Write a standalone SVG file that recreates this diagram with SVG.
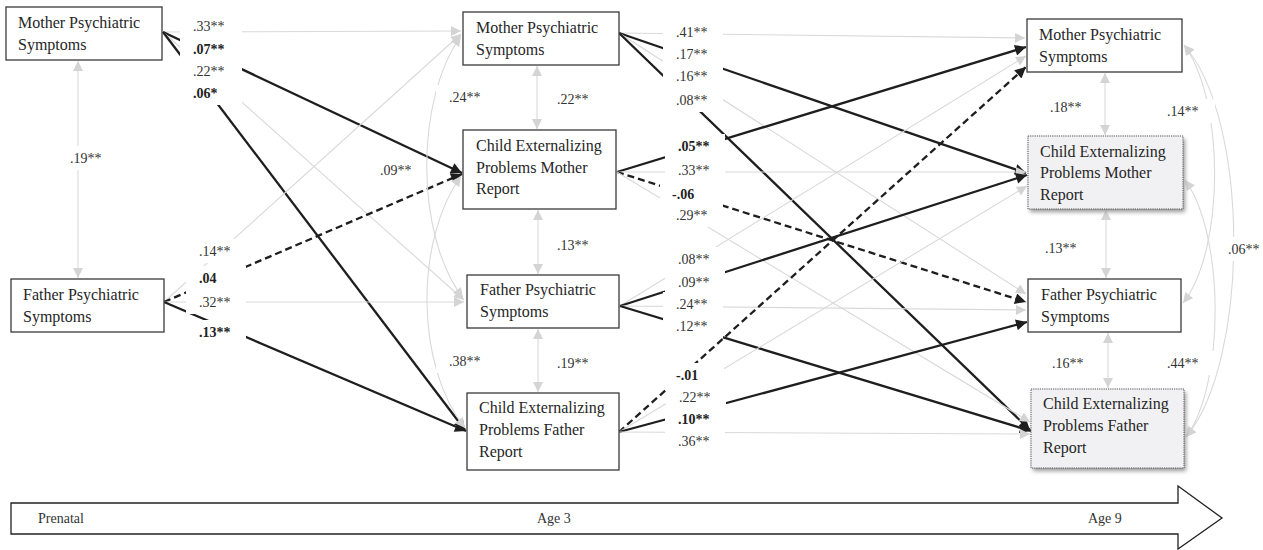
<svg xmlns="http://www.w3.org/2000/svg" width="1263" height="550" viewBox="0 0 1263 550">
<style>
.bx{fill:#fff;stroke:#3a3a3a;stroke-width:1.3}
.gb{fill:#f1f1f3;stroke:#555;stroke-width:1;stroke-dasharray:1.2,1}
.nt{font-family:"Liberation Serif","Times New Roman",serif;font-size:16px;fill:#262626}
.lb{font-family:"Liberation Serif","Times New Roman",serif;font-size:14px;fill:#333}
.b{font-weight:bold;fill:#222}
.lm{fill:#fff}
.g{stroke:#d9d9d9;stroke-width:1.1;fill:none;marker-end:url(#ag)}
.g2{stroke:#d9d9d9;stroke-width:1.1;fill:none;marker-start:url(#ag);marker-end:url(#ag)}
.k{stroke:#1e1e1e;stroke-width:2.3;fill:none;marker-end:url(#ak)}
.d{stroke:#1e1e1e;stroke-width:2.3;fill:none;stroke-dasharray:7,4;marker-end:url(#ak)}
.tl{fill:#fff;stroke:#222;stroke-width:1.3}
.tt{font-family:"Liberation Serif","Times New Roman",serif;font-size:14px;fill:#333}
</style>
<defs>
<marker id="ag" viewBox="0 0 10 10" refX="10" refY="5" markerWidth="12" markerHeight="10" markerUnits="userSpaceOnUse" orient="auto-start-reverse"><path d="M0,0 L10,5 L0,10 z" fill="#d4d4d4"/></marker>
<marker id="ak" viewBox="0 0 10 10" refX="10" refY="5" markerWidth="13" markerHeight="11" markerUnits="userSpaceOnUse" orient="auto"><path d="M0,0 L10,5 L0,10 z" fill="#1e1e1e"/></marker>
<filter id="sh" x="-10%" y="-10%" width="130%" height="130%"><feGaussianBlur stdDeviation="2"/></filter>
</defs>

<g id="connectors">
<!-- prenatal mother -->
<path class="g" d="M163,32 L461,31"/>
<path class="k" d="M163,32 L462,173"/>
<path class="g" d="M163,32 L464,300"/>
<path class="k" d="M163,32 L465,430"/>
<!-- prenatal father -->
<path class="g" d="M164,302 L461,34"/>
<path class="d" d="M164,302 L462,174"/>
<path class="g" d="M164,302 L464,302"/>
<path class="k" d="M164,302 L466,431"/>
<path class="g2" d="M78,61 L78,278"/>
<!-- age 3 internal -->
<path class="g2" d="M537,66 L537,129"/>
<path class="g2" d="M538,210 L538,274"/>
<path class="g2" d="M538,329 L538,392"/>
<path class="g2" d="M461,36 C415,100 415,235 463,298"/>
<path class="g2" d="M461,176 C415,240 415,365 465,428"/>
<!-- age3 mother -->
<path class="g" d="M619,33 L1025,38"/>
<path class="k" d="M619,33 L1026,173"/>
<path class="g" d="M619,33 L1026,294"/>
<path class="k" d="M619,33 L1030,430"/>
<!-- age3 child mother report -->
<path class="k" d="M617,172 L1026,47"/>
<path class="g" d="M617,172 L1026,172"/>
<path class="d" d="M617,172 L1026,302"/>
<path class="g" d="M617,172 L1030,422"/>
<!-- age3 father -->
<path class="g" d="M620,306 L1026,56"/>
<path class="k" d="M620,306 L1027,175"/>
<path class="g" d="M620,306 L1026,310"/>
<path class="k" d="M620,306 L1031,431"/>
<!-- age3 child father report -->
<path class="d" d="M619,432 L1026,67"/>
<path class="g" d="M619,432 L1027,186"/>
<path class="k" d="M619,432 L1027,322"/>
<path class="g" d="M619,432 L1030,434"/>
<!-- age 9 internal -->
<path class="g2" d="M1105,73 L1105,135"/>
<path class="g2" d="M1106,210 L1106,278"/>
<path class="g2" d="M1108,333 L1108,388"/>
<path class="g2" d="M1184,45 C1225,100 1225,250 1183,303"/>
<path class="g2" d="M1185,180 C1225,235 1225,385 1186,437"/>
<path class="g2" d="M1184,45 C1250,120 1250,360 1186,437"/>
</g>

<g id="labels">
<g class="lm">
<rect x="180" y="14" width="62" height="24"/><rect x="180" y="37" width="62" height="24"/><rect x="180" y="59" width="62" height="24"/><rect x="180" y="81" width="62" height="24"/>
<rect x="186" y="239" width="60" height="24"/><rect x="186" y="266" width="60" height="24"/><rect x="186" y="290" width="60" height="24"/><rect x="186" y="320" width="60" height="24"/>
<rect x="64" y="146" width="44" height="24"/>
<rect x="368" y="158" width="56" height="24"/>
<rect x="436" y="85" width="60" height="24"/><rect x="436" y="349" width="60" height="24"/>
<rect x="663" y="20" width="60" height="24"/><rect x="663" y="42" width="60" height="24"/><rect x="663" y="64" width="60" height="24"/><rect x="663" y="88" width="60" height="24"/>
<rect x="665" y="134" width="60" height="24"/><rect x="665" y="158" width="60" height="24"/><rect x="660" y="182" width="60" height="24"/><rect x="663" y="203" width="60" height="24"/>
<rect x="665" y="247" width="60" height="24"/><rect x="665" y="270" width="60" height="24"/><rect x="663" y="292" width="60" height="24"/><rect x="663" y="314" width="60" height="24"/>
<rect x="664" y="363" width="60" height="24"/><rect x="666" y="385" width="60" height="24"/><rect x="665" y="407" width="60" height="24"/><rect x="665" y="429" width="60" height="24"/>
<rect x="1155" y="99" width="60" height="24"/><rect x="1155" y="351" width="60" height="24"/><rect x="1222" y="237" width="41" height="24"/>
</g>
<text class="lb" x="193" y="31">.33**</text>
<text class="lb b" x="193" y="54">.07**</text>
<text class="lb" x="193" y="76">.22**</text>
<text class="lb b" x="193" y="98">.06*</text>
<text class="lb" x="199" y="256">.14**</text>
<text class="lb b" x="199" y="283">.04</text>
<text class="lb" x="199" y="307">.32**</text>
<text class="lb b" x="199" y="337">.13**</text>
<text class="lb" x="70" y="163">.19**</text>
<text class="lb" x="380" y="175">.09**</text>
<text class="lb" x="449" y="102">.24**</text>
<text class="lb" x="449" y="366">.38**</text>
<text class="lb" x="557" y="104">.22**</text>
<text class="lb" x="557" y="250">.13**</text>
<text class="lb" x="557" y="368">.19**</text>
<text class="lb" x="676" y="37">.41**</text>
<text class="lb" x="676" y="59">.17**</text>
<text class="lb" x="676" y="81">.16**</text>
<text class="lb" x="676" y="105">.08**</text>
<text class="lb b" x="678" y="151">.05**</text>
<text class="lb" x="678" y="175">.33**</text>
<text class="lb b" x="672" y="199">-.06</text>
<text class="lb" x="676" y="220">.29**</text>
<text class="lb" x="678" y="264">.08**</text>
<text class="lb" x="678" y="287">.09**</text>
<text class="lb" x="676" y="309">.24**</text>
<text class="lb" x="676" y="331">.12**</text>
<text class="lb b" x="676" y="380">-.01</text>
<text class="lb" x="679" y="402">.22**</text>
<text class="lb b" x="678" y="424">.10**</text>
<text class="lb" x="678" y="446">.36**</text>
<text class="lb" x="1050" y="112">.18**</text>
<text class="lb" x="1045" y="253">.13**</text>
<text class="lb" x="1052" y="368">.16**</text>
<text class="lb" x="1167" y="116">.14**</text>
<text class="lb" x="1167" y="368">.44**</text>
<text class="lb" x="1228" y="254">.06**</text>
</g>

<g id="n-p-mother"><rect class="bx" x="6" y="7" width="156" height="53"/><text class="nt" x="18" y="28">Mother Psychiatric</text><text class="nt" x="18" y="50">Symptoms</text></g>
<g id="n-p-father"><rect class="bx" x="11" y="279" width="153" height="53"/><text class="nt" x="23" y="300">Father Psychiatric</text><text class="nt" x="23" y="322">Symptoms</text></g>
<g id="n-3-mother"><rect class="bx" x="463" y="12" width="156" height="53"/><text class="nt" x="476" y="33">Mother Psychiatric</text><text class="nt" x="476" y="55">Symptoms</text></g>
<g id="n-3-cm"><rect class="bx" x="463" y="130" width="153" height="79"/><text class="nt" x="476" y="151">Child Externalizing</text><text class="nt" x="476" y="173">Problems Mother</text><text class="nt" x="476" y="194">Report</text></g>
<g id="n-3-father"><rect class="bx" x="467" y="275" width="152" height="53"/><text class="nt" x="480" y="295">Father Psychiatric</text><text class="nt" x="480" y="317">Symptoms</text></g>
<g id="n-3-cf"><rect class="bx" x="467" y="393" width="152" height="77"/><text class="nt" x="479" y="413">Child Externalizing</text><text class="nt" x="479" y="435">Problems Father</text><text class="nt" x="479" y="457">Report</text></g>
<g id="n-9-mother"><rect class="bx" x="1027" y="19" width="155" height="53"/><text class="nt" x="1039" y="40">Mother Psychiatric</text><text class="nt" x="1039" y="62">Symptoms</text></g>
<g id="n-9-cm"><rect x="1030" y="139" width="155" height="73" fill="#999" filter="url(#sh)"/><rect class="gb" x="1028" y="136" width="155" height="73"/><text class="nt" x="1040" y="157">Child Externalizing</text><text class="nt" x="1040" y="178">Problems Mother</text><text class="nt" x="1040" y="200">Report</text></g>
<g id="n-9-father"><rect class="bx" x="1028" y="279" width="153" height="53"/><text class="nt" x="1041" y="300">Father Psychiatric</text><text class="nt" x="1041" y="322">Symptoms</text></g>
<g id="n-9-cf"><rect x="1033" y="392" width="153" height="79" fill="#999" filter="url(#sh)"/><rect class="gb" x="1031" y="389" width="153" height="79"/><text class="nt" x="1043" y="409">Child Externalizing</text><text class="nt" x="1043" y="431">Problems Father</text><text class="nt" x="1043" y="453">Report</text></g>

<g id="timeline">
<path class="tl" d="M11,503 L1178,503 L1178,486 L1222,518 L1178,549 L1178,534 L11,534 Z"/>
<text class="tt" x="38" y="523">Prenatal</text>
<text class="tt" x="537" y="523">Age 3</text>
<text class="tt" x="1088" y="523">Age 9</text>
</g>
</svg>
